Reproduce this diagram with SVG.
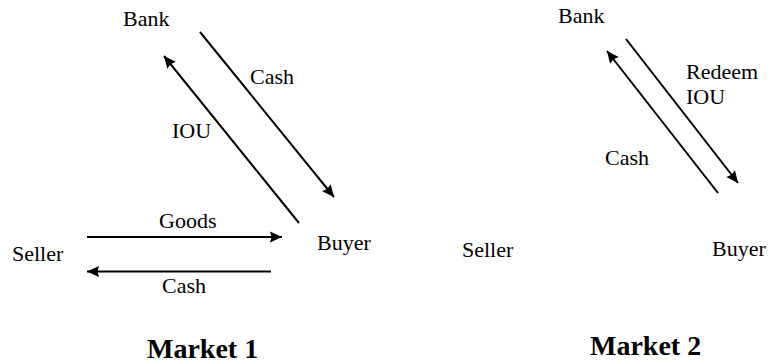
<svg xmlns="http://www.w3.org/2000/svg" width="768" height="363" viewBox="0 0 768 363">
<style>
.t{font-family:"Liberation Serif","Times New Roman",serif;font-size:22px;fill:#000}
.h{font-family:"Liberation Serif","Times New Roman",serif;font-size:28px;font-weight:bold;fill:#000}
.c{stroke:#000;stroke-width:2;fill:none;marker-end:url(#ah)}
</style>
<defs>
<marker id="ah" markerUnits="userSpaceOnUse" markerWidth="14" markerHeight="14" viewBox="0 0 14 14" refX="13" refY="6.5" orient="auto">
<path d="M1,1 L13,6.5 L1,12 L2.5,6.5 z" fill="#000"/>
</marker>
</defs>
<rect width="768" height="363" fill="#fff"/>
<g id="connectors">
<line class="c" x1="200" y1="32" x2="334" y2="197"/>
<line class="c" x1="299" y1="223" x2="164" y2="56"/>
<line class="c" x1="87" y1="237" x2="282" y2="237"/>
<line class="c" x1="271" y1="271.5" x2="87" y2="271.5"/>
<line class="c" x1="626" y1="39" x2="738" y2="183"/>
<line class="c" x1="718" y1="193" x2="607" y2="51"/>
</g>
<g id="labels">
<text class="t" x="250" y="84">Cash</text>
<text class="t" x="172" y="138">IOU</text>
<text class="t" x="159" y="228">Goods</text>
<text class="t" x="162" y="293">Cash</text>
<text class="t" x="686" y="79">Redeem</text>
<text class="t" x="686" y="104">IOU</text>
<text class="t" x="605" y="165">Cash</text>
</g>
<g id="m1-bank"><text class="t" x="123" y="26">Bank</text></g>
<g id="m1-buyer"><text class="t" x="317" y="250">Buyer</text></g>
<g id="m1-seller"><text class="t" x="12" y="261">Seller</text></g>
<g id="m1-title"><text class="h" x="147" y="358">Market 1</text></g>
<g id="m2-bank"><text class="t" x="558" y="23">Bank</text></g>
<g id="m2-seller"><text class="t" x="462" y="257">Seller</text></g>
<g id="m2-buyer"><text class="t" x="712" y="256">Buyer</text></g>
<g id="m2-title"><text class="h" x="590" y="355">Market 2</text></g>
</svg>
